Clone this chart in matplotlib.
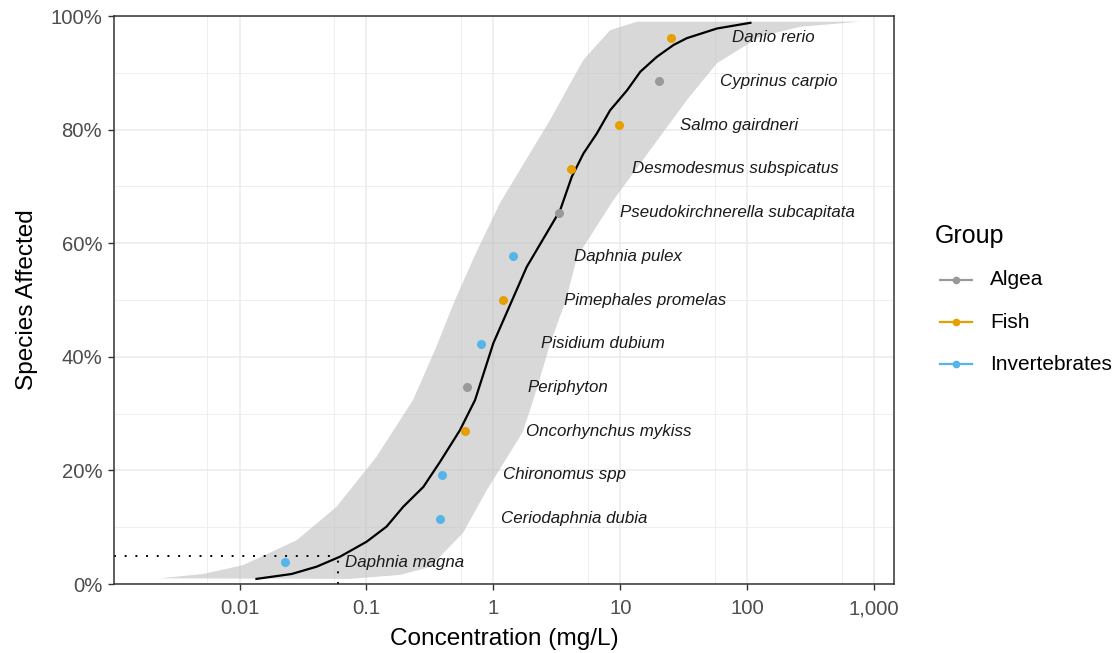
import matplotlib
matplotlib.use("Agg")
import matplotlib.pyplot as plt
from matplotlib.lines import Line2D
from matplotlib.ticker import FixedLocator, FuncFormatter

plt.rcParams['font.family'] = ['Liberation Sans', 'DejaVu Sans']

# ---- data ----
species = ["Daphnia magna", "Ceriodaphnia dubia", "Chironomus spp", "Oncorhynchus mykiss",
           "Periphyton", "Pisidium dubium", "Pimephales promelas", "Daphnia pulex",
           "Pseudokirchnerella subcapitata", "Desmodesmus subspicatus", "Salmo gairdneri",
           "Cyprinus carpio", "Danio rerio"]
conc = [0.0228, 0.380, 0.396, 0.598, 0.617, 0.796, 1.20, 1.44, 3.32, 4.10, 9.86, 20.3, 25.1]
affected = [0.038, 0.115, 0.192, 0.269, 0.346, 0.423, 0.500, 0.577, 0.654, 0.731, 0.808, 0.885, 0.962]
group = ["Invertebrates", "Invertebrates", "Invertebrates", "Fish", "Algea", "Invertebrates",
         "Fish", "Invertebrates", "Algea", "Fish", "Fish", "Algea", "Fish"]
groups = ["Algea", "Fish", "Invertebrates"]
group_colors = {"Algea": "#999999", "Fish": "#E69F00", "Invertebrates": "#56B4E9"}

fit_conc = [0.0136, 0.0257, 0.0405, 0.0618, 0.1004, 0.144, 0.195, 0.281, 0.380, 0.546, 0.718,
            1.0, 1.83, 3.36, 4.15, 5.13, 6.53, 8.32, 11.3, 14.4, 19.4, 26.3, 33.5, 57.8, 106]
fit_pct = [0.009, 0.0176, 0.0305, 0.048, 0.0745, 0.101, 0.136, 0.171, 0.215, 0.271, 0.324,
           0.424, 0.558, 0.658, 0.717, 0.758, 0.793, 0.834, 0.869, 0.902, 0.928, 0.949, 0.961,
           0.978, 0.988]

ci_low_conc = [0.00235, 0.00516, 0.0106, 0.0282, 0.0582, 0.120, 0.233, 0.347, 0.499, 0.717,
               1.13, 2.80, 5.13, 8.32, 13.5]
ci_low_pct = [0.010, 0.0176, 0.033, 0.077, 0.136, 0.224, 0.324, 0.412, 0.500, 0.579,
              0.671, 0.817, 0.923, 0.975, 0.990]
ci_high_conc = [0.074, 0.184, 0.317, 0.577, 0.887, 1.71, 2.21, 2.80, 3.74, 4.57, 8.84, 17.2,
                33.5, 57.8, 127, 262, 780]
ci_high_pct = [0.009, 0.016, 0.030, 0.090, 0.165, 0.268, 0.345, 0.423, 0.500, 0.576, 0.676,
               0.764, 0.852, 0.917, 0.964, 0.981, 0.990]

hc5_conc = 0.060
hc5_pct = 0.05
label_shift = 3

x_ticks = [0.01, 0.1, 1, 10, 100, 1000]
x_tick_labels = ["0.01", "0.1", "1", "10", "100", "1,000"]
x_minor = [0.00555, 0.0555, 0.555, 5.55, 55.5, 555]
y_ticks = [0, 0.2, 0.4, 0.6, 0.8, 1.0]
y_minor = [0.1, 0.3, 0.5, 0.7, 0.9]

# ---- figure ----
W, H = 1117, 653
fig = plt.figure(figsize=(W / 100, H / 100), dpi=100)
L, R, T, B = 114, 894, 16, 584
ax = fig.add_axes([L / W, (H - B) / H, (R - L) / W, (B - T) / H])
ax.set_xscale("log")
xlo, xhi = 10 ** -2.989, 10 ** 3.157
ax.set_xlim(xlo, xhi)
ax.set_ylim(0, 1)

# grid
for v in x_ticks:
    ax.axvline(v, color="#EBEBEB", lw=1.1, zorder=0)
for v in x_minor:
    ax.axvline(v, color="#EBEBEB", lw=0.6, zorder=0)
for v in y_ticks:
    ax.axhline(v, color="#EBEBEB", lw=1.1, zorder=0)
for v in y_minor:
    ax.axhline(v, color="#EBEBEB", lw=0.6, zorder=0)

# ribbon
poly_x = ci_low_conc + ci_high_conc[::-1]
poly_y = ci_low_pct + ci_high_pct[::-1]
ax.fill(poly_x, poly_y, color="#BEBEBE", alpha=0.6, lw=0, zorder=1)

# fitted curve
ax.plot(fit_conc, fit_pct, color="black", lw=1.6, zorder=3)

# hc5 dotted lines
ax.plot([xlo, hc5_conc], [hc5_pct, hc5_pct], color="black", lw=1.4,
        linestyle=(0, (1, 4.5)), zorder=2)
ax.plot([hc5_conc, hc5_conc], [0, hc5_pct], color="black", lw=1.4,
        linestyle=(0, (1, 4.5)), zorder=2)

# points and labels
for c, a, g, s in zip(conc, affected, group, species):
    ax.plot(c, a, "o", color=group_colors[g], ms=6.5, mec="none", zorder=4)
    ax.text(c * label_shift, a, s, fontsize=12.2, style="italic", color="#1A1A1A",
            ha="left", va="center", zorder=5)

# axes styling
ax.xaxis.set_major_locator(FixedLocator(x_ticks))
ax.xaxis.set_minor_locator(FixedLocator([]))
ax.set_xticklabels(x_tick_labels)
ax.set_yticks(y_ticks)
ax.yaxis.set_major_formatter(FuncFormatter(lambda v, p: f"{v * 100:.0f}%"))
ax.tick_params(axis="x", which="major", length=4, width=1.0, color="#333333",
               labelsize=14.6, labelcolor="#4D4D4D", pad=7)
ax.tick_params(axis="y", which="major", length=4, width=1.0, color="#333333",
               labelsize=14.6, labelcolor="#4D4D4D", pad=4.5)
for sp in ax.spines.values():
    sp.set_color("#333333")
    sp.set_linewidth(1.1)
ax.set_xlabel("Concentration (mg/L)", fontsize=17.6, color="black", labelpad=7)
ax.set_ylabel("Species Affected", fontsize=17.6, color="black", labelpad=9)

# legend (placed in figure pixels)
def fx(px):
    return px / W

def fy(py):
    return 1 - py / H

fig.text(fx(935), fy(236), "Group", fontsize=18, color="black", ha="left", va="center")
for i, g in enumerate(groups):
    yy = 280 + 42 * i
    fig.add_artist(Line2D([fx(940), fx(972)], [fy(yy), fy(yy)], color=group_colors[g], lw=1.6))
    fig.add_artist(Line2D([fx(956)], [fy(yy)], color=group_colors[g], marker="o", ms=5.5,
                          mec="none", lw=0))
    fig.text(fx(990), fy(yy), g, fontsize=15, color="black", ha="left", va="center")

fig.savefig("out.png", dpi=100)
